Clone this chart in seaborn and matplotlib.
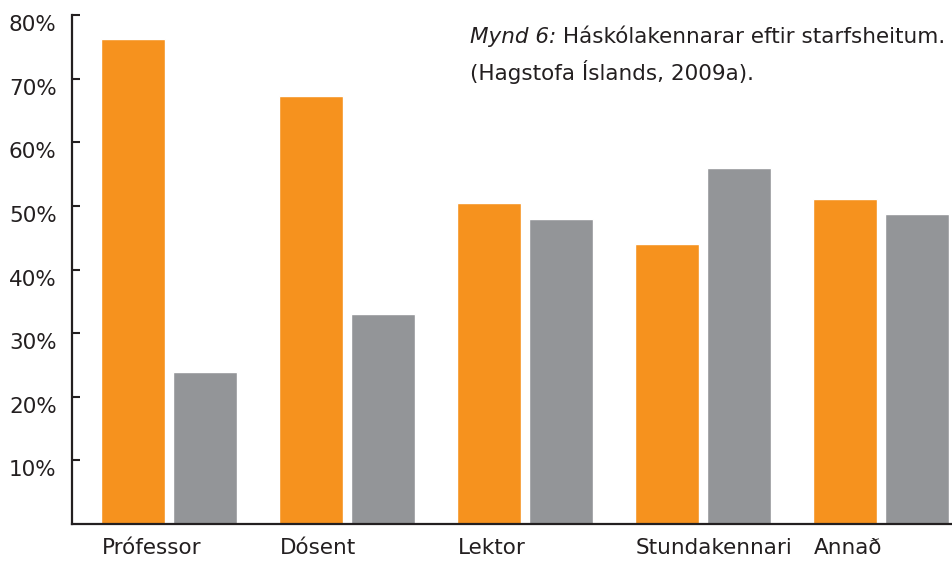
import matplotlib
matplotlib.use("Agg")
import matplotlib.pyplot as plt
import matplotlib.transforms as mtransforms
import seaborn as sns
import pandas as pd

categories = ["Prófessor", "Dósent", "Lektor", "Stundakennari", "Annað"]
series_names = ["Karlar", "Konur"]
karlar = [76.3, 67.3, 50.4, 44.0, 51.1]
konur = [23.9, 33.0, 48.0, 56.0, 48.7]
y_ticks = [10, 20, 30, 40, 50, 60, 70, 80]
y_tick_labels = ["10%", "20%", "30%", "40%", "50%", "60%", "70%", "80%"]
caption_italic = "Mynd 6:"
caption_rest = " Háskólakennarar eftir starfsheitum."
caption_line2 = "(Hagstofa Íslands, 2009a)."

df = pd.DataFrame({
    "Starfsheiti": categories * 2,
    "Kyn": [series_names[0]] * len(categories) + [series_names[1]] * len(categories),
    "Hlutfall": karlar + konur,
})

sns.set_style("white")
plt.rcParams["font.family"] = ["DejaVu Sans"]

dark = "#231F20"
fs = 15.5
fig = plt.figure(figsize=(9.52, 5.62), dpi=100)
ax = fig.add_axes([72 / 952, 1 - 524 / 562, 1 - 72 / 952, (524 - 15) / 562])

sns.barplot(data=df, x="Starfsheiti", y="Hlutfall", hue="Kyn",
            palette=["#F6921E", "#939598"], width=0.81, gap=0.11,
            saturation=1, legend=False, ax=ax, errorbar=None)

ax.set_xlim(-0.545, 4.40)
ax.set_ylim(0, 80)
ax.set_xlabel("")
ax.set_ylabel("")
ax.set_yticks(y_ticks)
ax.set_yticklabels(y_tick_labels, fontsize=fs, color=dark)
ax.tick_params(axis="y", direction="in", length=6, width=1.5, color=dark, pad=11, left=True)
ax.tick_params(axis="x", length=0, pad=10)
ax.set_xticks(range(len(categories)))
ax.set_xticklabels(categories, fontsize=fs, color=dark, ha="left")

xoff = mtransforms.ScaledTranslation(-0.67, 0, fig.dpi_scale_trans)
for lbl in ax.get_xticklabels():
    lbl.set_transform(lbl.get_transform() + xoff)
yoff = mtransforms.ScaledTranslation(0, -0.08, fig.dpi_scale_trans)
for lbl in ax.get_yticklabels():
    lbl.set_transform(lbl.get_transform() + yoff)

for s in ["top", "right"]:
    ax.spines[s].set_visible(False)
for s in ["left", "bottom"]:
    ax.spines[s].set_color(dark)
    ax.spines[s].set_linewidth(1.6)
ax.spines["left"].set_zorder(5)

t1 = fig.text(470 / 952, 1 - 43 / 562, caption_italic, fontsize=fs, style="italic",
              color=dark, va="baseline", ha="left")
fig.canvas.draw()
bb = t1.get_window_extent(renderer=fig.canvas.get_renderer())
fig.text(bb.x1 / 952, 1 - 43 / 562, caption_rest, fontsize=fs, color=dark,
         va="baseline", ha="left")
fig.text(470 / 952, 1 - 80 / 562, caption_line2, fontsize=fs, color=dark,
         va="baseline", ha="left")

fig.savefig("out.png", dpi=100)
